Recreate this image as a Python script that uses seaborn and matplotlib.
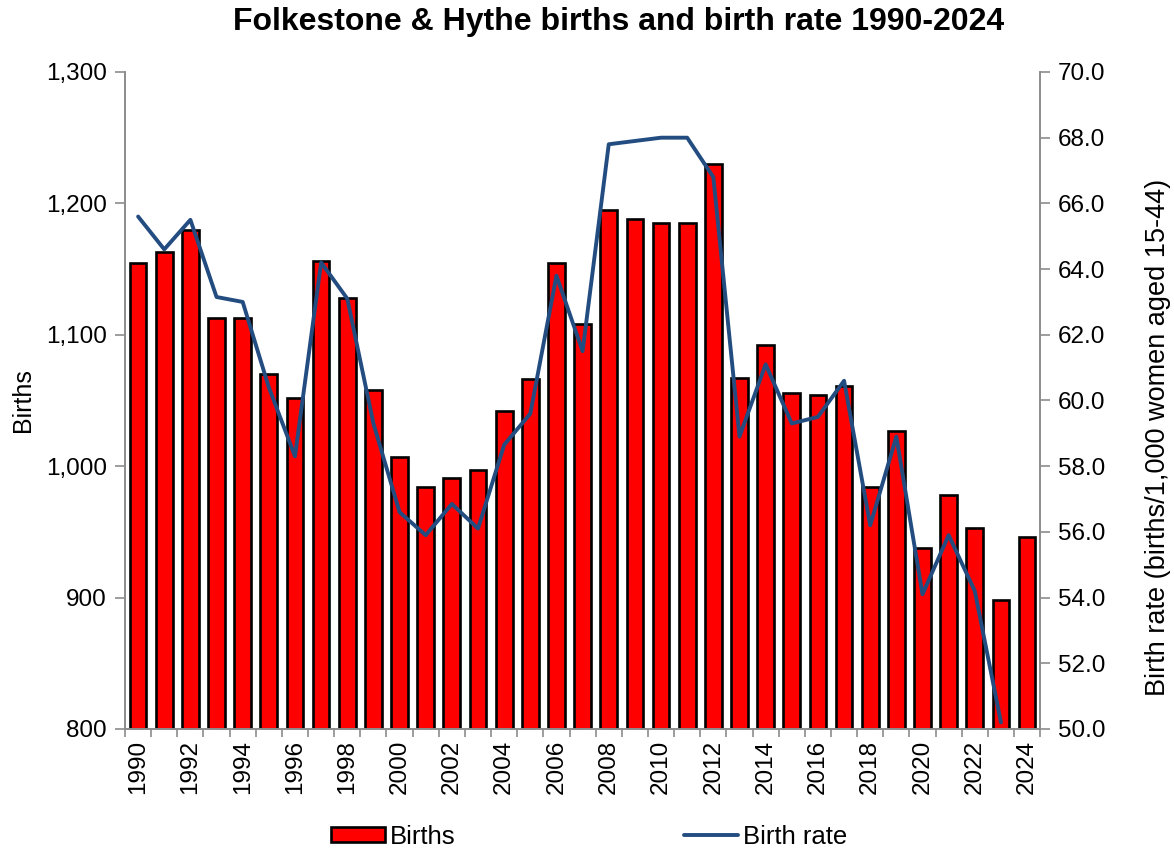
import numpy as np
import pandas as pd
import matplotlib
matplotlib.use("Agg")
import matplotlib.pyplot as plt
from matplotlib.ticker import FuncFormatter, MultipleLocator, FixedLocator
from matplotlib.patches import Patch
from matplotlib.lines import Line2D
import seaborn as sns

# ---------------- data ----------------
years = [str(y) for y in range(1990, 2025)]
births = [1155, 1163, 1180, 1113, 1113, 1070, 1052, 1156, 1128, 1058,
          1007, 984, 991, 997, 1042, 1066, 1155, 1108, 1195, 1188,
          1185, 1185, 1230, 1067, 1092, 1056, 1054, 1061, 984, 1027,
          938, 978, 953, 898, 946]
birth_rate = [65.6, 64.6, 65.5, 63.15, 63.0, 60.4, 58.3, 64.2, 63.1, 59.3,
              56.6, 55.9, 56.85, 56.1, 58.65, 59.6, 63.8, 61.5, 67.8, 67.9,
              68.0, 68.0, 66.8, 58.9, 61.1, 59.3, 59.5, 60.6, 56.2, 58.9,
              54.1, 55.9, 54.2, 50.2, np.nan]

df = pd.DataFrame({"Year": years, "Births": births, "Birth_Rate": birth_rate})

sns.set_style("white")
plt.rcParams['font.family'] = ['Liberation Sans', 'DejaVu Sans']
plt.rcParams['text.color'] = 'black'
plt.rcParams['axes.labelcolor'] = 'black'

bar_red = "#FF0000"
line_blue = "#234D80"
spine_grey = "#8C8C8C"

fig = plt.figure(figsize=(11.74, 8.51), dpi=100)
ax = fig.add_axes([0.1065, 0.1434, 0.7795, 0.772])

sns.barplot(data=df, x="Year", y="Births", color=bar_red, edgecolor="black",
            linewidth=1.9, width=0.64, saturation=1, ax=ax)
ax.set_ylim(800, 1300)
ax.set_xlim(-0.5, len(years) - 0.5)
ax.yaxis.set_major_locator(MultipleLocator(100))
ax.yaxis.set_major_formatter(FuncFormatter(lambda v, p: f"{int(v):,}"))

# year labels every other bar, tick marks at bar boundaries
ax.xaxis.set_major_locator(FixedLocator(np.arange(0, len(years), 2)))
ax.set_xticklabels(years[::2], rotation=90)
ax.xaxis.set_minor_locator(FixedLocator(np.arange(-0.5, len(years), 1)))
ax.tick_params(axis="x", which="major", length=0, pad=8, labelsize=17.5, labelcolor="black")
ax.tick_params(axis="x", which="minor", length=6, width=1.2, color=spine_grey, bottom=True)
ax.tick_params(axis="y", length=7, width=1.2, color=spine_grey, left=True, labelsize=17.5,
               pad=6, labelcolor="black")
ax.set_xlabel("")
ax.set_ylabel("Births", fontsize=18, labelpad=8)

ax2 = ax.twinx()
sns.lineplot(data=df, x="Year", y="Birth_Rate", color=line_blue, linewidth=2.8,
             sort=False, ax=ax2)
ax2.set_ylim(50, 70)
ax2.yaxis.set_major_locator(MultipleLocator(2))
ax2.yaxis.set_major_formatter(FuncFormatter(lambda v, p: f"{v:.1f}"))
ax2.tick_params(axis="y", length=7, width=1.2, color=spine_grey, right=True, labelsize=17.5,
                pad=6, labelcolor="black")
ax2.set_ylabel("Birth rate (births/1,000 women aged 15-44)", fontsize=19.5)
ax2.yaxis.set_label_coords(1.115, 0.444)
ax2.set_xlim(-0.5, len(years) - 0.5)

for a in (ax, ax2):
    a.spines["top"].set_visible(False)
    for s in ("left", "right", "bottom"):
        a.spines[s].set_color(spine_grey)
        a.spines[s].set_linewidth(1.2)

fig.text(0.527, 0.974, "Folkestone & Hythe births and birth rate 1990-2024",
         ha="center", va="center", fontsize=23, fontweight="bold")

handles = [Patch(facecolor=bar_red, edgecolor="black", linewidth=1.9),
           Line2D([], [], color=line_blue, linewidth=2.8)]
fig.legend(handles, ["Births", "Birth rate"], loc="center", bbox_to_anchor=(0.502, 0.017),
           ncol=2, frameon=False, fontsize=18.5, handlelength=2.1, handleheight=0.5,
           handletextpad=0.2, columnspacing=8.9, borderpad=0, borderaxespad=0)

fig.savefig("out.png", dpi=100)
